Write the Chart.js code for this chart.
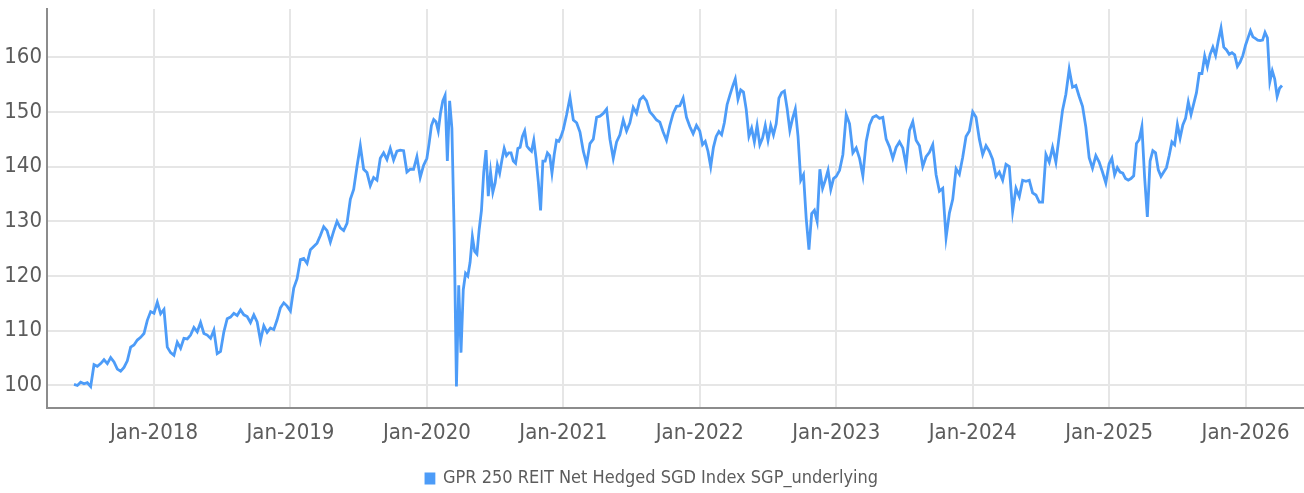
<!DOCTYPE html>
<html>
<head>
<meta charset="utf-8">
<script src="https://cdn.jsdelivr.net/npm/chart.js@4.4.1/dist/chart.umd.min.js"></script>
<style>
html,body{margin:0;padding:0;background:#fff;}
#wrap{width:1304px;height:493px;position:relative;}
</style>
</head>
<body>
<div id="wrap"><canvas id="c"></canvas></div>
<script>
const seriesName = 'GPR 250 REIT Net Hedged SGD Index SGP_underlying';
const tickYears = [2018, 2019, 2020, 2021, 2022, 2023, 2024, 2025, 2026];
const yTicks = [100, 110, 120, 130, 140, 150, 160];

// Index values, roughly evenly spaced within each period
const v2017 = [100.2, 100.0, 100.6, 100.3, 100.5, 99.8, 103.8, 103.5, 104.0, 104.7, 104.0, 105.1, 104.3, 103.0, 102.6, 103.3, 104.5, 107.0, 107.4, 108.3, 108.8, 109.5, 111.9, 113.5];
const v2018 = [113.2, 115.2, 113.1, 113.9, 107.0, 106.0, 105.5, 107.9, 106.8, 108.6, 108.5, 109.2, 110.6, 109.8, 111.5, 109.5, 109.2, 108.6, 110.1, 105.8, 106.2, 109.8, 112.2, 112.5, 113.2, 112.8, 113.8, 112.9, 112.6, 111.5, 112.9, 111.6, 108.2, 110.9, 109.7, 110.5, 110.2, 112.0, 114.2, 115.1, 114.5];
const v2019 = [113.6, 117.8, 119.5, 123.0, 123.2, 122.3, 124.8, 125.4, 126.0, 127.4, 129.0, 128.3, 126.2, 128.2, 130.0, 128.8, 128.3, 129.6, 134.0, 135.8, 140.0, 143.8, 139.5, 138.9, 136.5, 138.0, 137.5, 141.5, 142.5, 141.3, 143.3, 141.2, 142.8, 143.0, 142.9, 139.0, 139.5, 139.5, 141.8, 138.0, 140.2];
const v2020 = [141.5, 144.3, 147.5, 148.6, 148.2, 146.5, 149.8, 152.0, 153.0, 141.0, 152.0, 147.0, 128.0, 99.8, 118.3, 106.0, 117.5, 120.5, 120.0, 122.5, 127.2, 124.5, 124.0, 128.5, 132.0, 139.0, 143.0, 134.6, 139.0, 135.3, 137.0, 140.3, 138.8, 141.2, 143.3, 142.0, 142.5, 142.5, 141.0, 140.6, 143.3, 143.5, 145.5, 146.5, 143.7, 143.2, 142.8, 144.8, 141.5, 137.2, 132.0, 141.0, 141.0, 142.5, 142.0, 138.8, 142.2, 144.8, 144.6, 145.5];
const v2021 = [146.8, 149.5, 152.6, 148.5, 148.0, 146.3, 142.8, 140.5, 144.2, 145.0, 149.0, 149.2, 149.7, 150.5, 145.0, 141.5, 144.5, 145.8, 148.5, 146.5, 148.0, 150.8, 149.7, 152.2, 152.8, 152.0, 150.0, 149.3, 148.5, 148.1, 146.3, 144.8, 147.5, 149.7, 151.0, 151.1, 152.5, 149.0, 147.3, 146.0, 147.5];
const v2022 = [146.5, 144.0, 144.6, 142.8, 140.0, 143.5, 145.5, 146.4, 145.8, 148.0, 151.3, 153.0, 154.6, 156.0, 152.3, 154.0, 153.6, 150.5, 145.5, 147.0, 144.5, 147.5, 144.0, 145.2, 147.5, 144.8, 147.5, 145.8, 147.8, 152.5, 153.5, 153.8, 150.6, 146.6, 148.8, 150.5, 145.5, 137.5, 138.5, 130.5, 124.8, 131.4, 132.0, 130.0, 139.5, 136.0, 137.5, 139.3, 135.8, 137.8];
const v2023 = [138.2, 139.3, 142.2, 149.5, 147.8, 142.5, 143.4, 141.5, 138.3, 144.6, 147.6, 149.0, 149.3, 148.8, 149.0, 145.0, 143.6, 141.5, 143.5, 144.5, 143.4, 140.2, 146.6, 148.2, 144.8, 143.8, 140.0, 141.8, 142.6, 144.0, 138.5, 135.5, 136.0, 127.0, 131.5, 134.0, 139.6, 138.6, 141.7, 145.5, 146.5];
const v2024 = [150.0, 149.0, 145.0, 142.2, 143.8, 142.8, 141.3, 138.2, 139.0, 137.5, 140.4, 140.0, 131.8, 136.0, 134.5, 137.5, 137.3, 137.5, 135.2, 134.8, 133.5, 133.5, 142.2, 140.8, 143.5, 140.8, 145.6, 150.3, 153.2, 157.8, 154.5, 154.8, 152.8, 151.0, 147.2, 141.6, 139.7, 142.0, 140.8, 139.0, 137.0];
const v2025 = [140.5, 141.5, 138.5, 139.8, 139.0, 138.8, 137.8, 137.5, 137.8, 138.3, 144.2, 144.9, 147.3, 138.0, 130.8, 141.0, 142.9, 142.5, 139.4, 138.2, 139.0, 139.8, 142.0, 144.5, 144.0, 147.7, 145.2, 147.6, 148.8, 151.8, 149.5, 151.5, 153.5, 157.0, 157.0, 160.2, 158.2, 160.5, 161.8, 160.3, 163.0, 165.3, 161.8, 161.3, 160.5, 160.8, 160.4, 158.3, 159.1, 160.3];
const v2026 = [162.2, 163.5, 164.8, 163.7, 163.4, 163.1, 163.0, 163.1, 164.5, 163.5, 155.5, 157.5, 156.0, 152.8, 154.3, 154.8];

// Period boundaries (decimal years) of each value array
const segStart = [2017.414, 2018, 2019, 2020, 2021, 2022, 2023, 2024, 2025, 2026];
const segEnd   = [2018, 2019, 2020, 2021, 2022, 2023, 2024, 2025, 2026, 2026.2845];
const segValues = [v2017, v2018, v2019, v2020, v2021, v2022, v2023, v2024, v2025, v2026];

const points = [];
segValues.forEach((vals, s) => {
  const step = (segEnd[s] - segStart[s]) / vals.length;
  vals.forEach((v, i) => points.push({x: segStart[s] + i * step, y: v}));
});

const FONT = "'Liberation Sans Narrow', 'DejaVu Sans Condensed', 'Roboto Condensed', Roboto, sans-serif";
const TEXT = '#5c5c5c';
const GRID = '#e6e6e6';
const AXIS = '#8c8c8c';
const BLUE = '#4d9cf8';

Chart.defaults.font.family = FONT;
Chart.defaults.font.size = 22;
Chart.defaults.color = TEXT;

new Chart(document.getElementById('c'), {
  type: 'line',
  data: {
    datasets: [{
      label: seriesName,
      data: points,
      borderColor: BLUE,
      backgroundColor: BLUE,
      borderWidth: 2.8,
      pointRadius: 0,
      pointHoverRadius: 0,
      tension: 0,
      fill: false
    }]
  },
  options: {
    responsive: true,
    maintainAspectRatio: false,
    animation: false,
    layout: {padding: {top: 9, bottom: -4.5, left: 0, right: 0}},
    plugins: {
      legend: {
        position: 'bottom',
        labels: {boxWidth: 8, boxHeight: 9, color: TEXT, font: {size: 18, family: FONT}}
      },
      tooltip: {enabled: false}
    },
    scales: {
      x: {
        type: 'linear',
        min: 2017.216,
        max: 2026.428,
        grid: {color: GRID, lineWidth: 2, drawTicks: false},
        border: {color: AXIS, width: 2},
        ticks: {
          padding: 13, color: TEXT, maxRotation: 0, autoSkip: false,
          font: {size: 22, family: FONT},
          callback: v => 'Jan-' + v
        },
        afterBuildTicks: s => { s.ticks = tickYears.map(v => ({value: v})); },
        afterFit: s => { s.height = 52; s.paddingLeft = 0; s.paddingRight = 0; }
      },
      y: {
        type: 'linear',
        min: 95.976,
        max: 168.78,
        grid: {color: GRID, lineWidth: 2, drawTicks: false},
        border: {color: AXIS, width: 2},
        ticks: {padding: 5, color: TEXT, font: {size: 22, family: FONT}, callback: v => String(v)},
        afterBuildTicks: s => { s.ticks = yTicks.map(v => ({value: v})); },
        afterFit: s => { s.width = 47; s.paddingTop = 0; s.paddingBottom = 0; }
      }
    }
  }
});
</script>
</body>
</html>
